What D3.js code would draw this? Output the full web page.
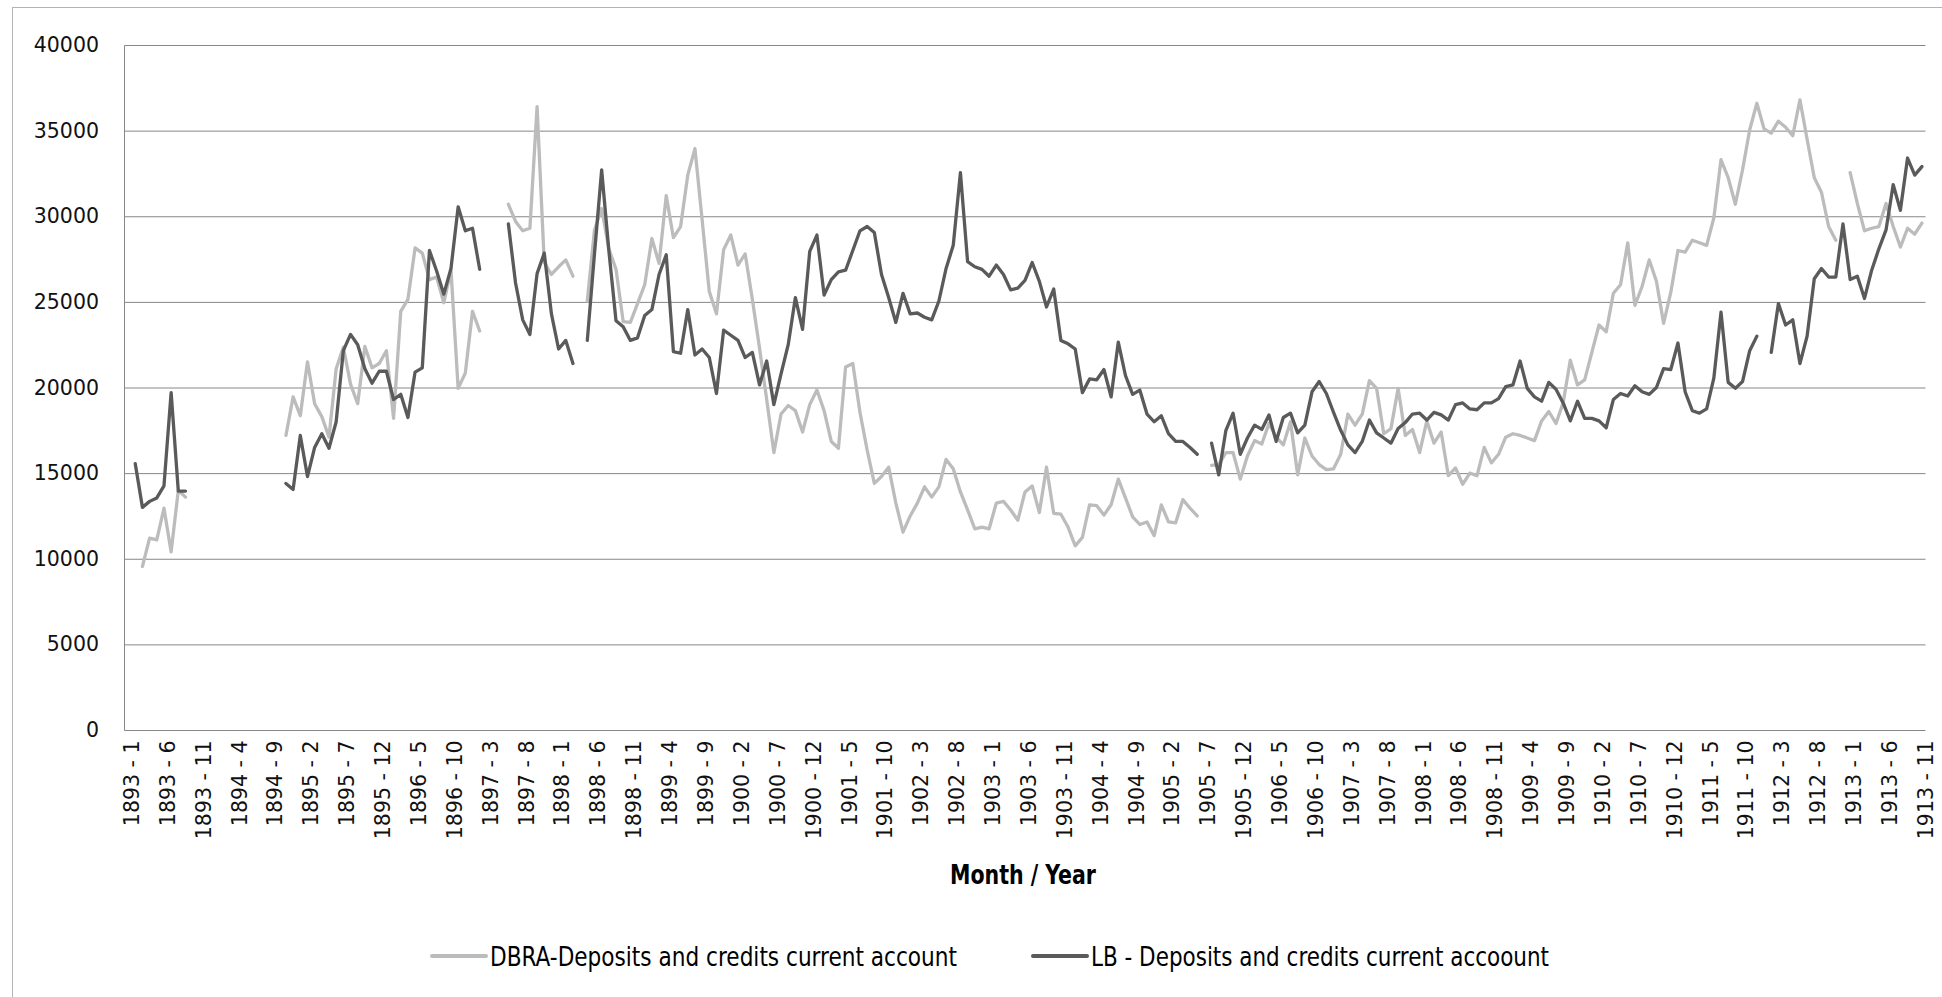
<!DOCTYPE html>
<html>
<head>
<meta charset="utf-8">
<title>Deposits and credits current account, 1893–1913</title>
<script src="https://cdn.jsdelivr.net/npm/d3@7/dist/d3.min.js"></script>
<style>
  html, body { margin: 0; padding: 0; background: #ffffff; }
  svg { display: block; }
</style>
</head>
<body>
<svg id="chart" width="1942" height="997"></svg>
<script>
// Month categories, 1893 - 1 through 1913 - 11
const firstYear = 1893, lastYear = 1913, lastMonth = 11;
const categories = [];
for (let y = firstYear; y <= lastYear; y++) {
  for (let m = 1; m <= 12; m++) {
    if (y === lastYear && m > lastMonth) break;
    categories.push(`${y} - ${m}`);
  }
}
// every fifth month carries a label
const tickCategories = categories.filter((d, i) => i % 5 === 0);
const yTicks = [0, 5000, 10000, 15000, 20000, 25000, 30000, 35000, 40000];

const xTitle = "Month / Year";
const dbraName = "DBRA-Deposits and credits current account";
const lbName = "LB - Deposits and credits current accoount";

// DBRA, one row per year (Jan..Dec); null = no figure
const dbra = [
  null, null, 9550, 11200, 11100, 12950, 10400, 14000, 13600, null, null, null,
  null, null, null, null, null, null, null, null, null, null, 17200, 19450,
  18350, 21500, 19050, 18300, 17100, 21100, 22350, 20200, 19050, 22400, 21150, 21400,
  22150, 18200, 24450, 25150, 28150, 27850, 26300, 26450, 24950, 26850, 19950, 20850,
  24450, 23300, null, null, null, 30700, 29700, 29150, 29300, 36400, 27300, 26600,
  27050, 27450, 26500, null, 25050, 29200, 30450, 28100, 26900, 23850, 23800, 24900,
  26000, 28700, 27250, 31200, 28750, 29400, 32400, 33950, 29800, 25600, 24300, 28050,
  28900, 27150, 27800, 25150, 22300, 19300, 16200, 18450, 18950, 18650, 17400, 19000,
  19850, 18650, 16850, 16450, 21200, 21400, 18550, 16350, 14400, 14800, 15350, 13250,
  11550, 12500, 13250, 14200, 13600, 14200, 15800, 15250, 13900, 12850, 11750, 11850,
  11750, 13250, 13350, 12850, 12250, 13900, 14250, 12700, 15350, 12650, 12600, 11850,
  10750, 11250, 13150, 13100, 12550, 13150, 14650, 13550, 12450, 12000, 12150, 11350,
  13150, 12150, 12100, 13450, 12950, 12500, null, 15450, 15500, 16200, 16200, 14650,
  16000, 16900, 16700, 17900, 17100, 16650, 18000, 14900, 17050, 16000, 15500, 15200,
  15250, 16100, 18450, 17800, 18450, 20400, 19950, 17300, 17600, 19950, 17200, 17550,
  16200, 18050, 16750, 17400, 14850, 15300, 14350, 15000, 14850, 16500, 15600, 16100,
  17100, 17300, 17200, 17050, 16900, 18050, 18600, 17900, 19100, 21600, 20150, 20450,
  22050, 23650, 23250, 25500, 26000, 28450, 24800, 25900, 27450, 26200, 23750, 25550,
  28000, 27900, 28600, 28450, 28300, 29900, 33300, 32250, 30700, 32700, 35050, 36600,
  35100, 34850, 35550, 35200, 34700, 36800, 34500, 32250, 31400, 29400, 28600, null,
  32550, 30750, 29150, 29300, 29400, 30750, 29400, 28200, 29300, 28950, 29600
];

// LB, one row per year (Jan..Dec); null = no figure
const lb = [
  null, 15550, 13000, 13350, 13550, 14250, 19700, 13950, 13950, null, null, null,
  null, null, null, null, null, null, null, null, null, null, 14400, 14050,
  17200, 14800, 16500, 17300, 16450, 18000, 22150, 23100, 22500, 21100, 20250, 20950,
  20950, 19300, 19600, 18250, 20900, 21150, 28000, 26800, 25450, 26950, 30550, 29150,
  29300, 26900, null, null, null, 29550, 26100, 23950, 23100, 26650, 27850, 24300,
  22250, 22750, 21400, null, 22750, 27800, 32700, 28000, 23900, 23550, 22750, 22900,
  24200, 24550, 26600, 27750, 22100, 22000, 24550, 21900, 22250, 21750, 19650, 23350,
  23050, 22750, 21750, 22050, 20150, 21550, 19000, 20800, 22500, 25250, 23400, 27950,
  28900, 25400, 26300, 26750, 26850, 28000, 29150, 29400, 29050, 26600, 25250, 23800,
  25500, 24300, 24350, 24100, 23950, 25050, 26950, 28300, 32550, 27350, 27050, 26900,
  26500, 27150, 26600, 25700, 25800, 26250, 27300, 26200, 24700, 25750, 22750, 22550,
  22250, 19700, 20500, 20450, 21050, 19450, 22650, 20700, 19600, 19850, 18450, 18000,
  18350, 17300, 16850, 16850, 16500, 16100, null, 16750, 14900, 17500, 18500, 16100,
  17050, 17800, 17550, 18400, 16850, 18250, 18500, 17350, 17800, 19750, 20350, 19650,
  18550, 17500, 16650, 16200, 16850, 18100, 17350, 17050, 16750, 17600, 17950, 18450,
  18500, 18100, 18550, 18400, 18100, 19000, 19100, 18750, 18700, 19100, 19100, 19350,
  20050, 20150, 21550, 19950, 19450, 19200, 20300, 19900, 19100, 18050, 19200, 18200,
  18200, 18050, 17650, 19300, 19650, 19500, 20100, 19750, 19600, 20000, 21100, 21050,
  22600, 19750, 18650, 18500, 18750, 20550, 24400, 20300, 19950, 20350, 22150, 23000,
  null, 22050, 24900, 23650, 23950, 21400, 23000, 26350, 26950, 26450, 26450, 29550,
  26300, 26500, 25200, 26850, 28100, 29200, 31850, 30350, 33400, 32400, 32900
];

const seriesList = [
  { name: dbraName, values: dbra, color: "#bcbcbc" },
  { name: lbName, values: lb, color: "#5a5a5a" }
];

// ---- layout ----
const W = 1942, H = 997;
const plot = { left: 124.5, right: 1925.5, top: 45, bottom: 730 };
const gridColor = "#878787";
const tickFont = "'DejaVu Sans', Verdana, sans-serif";
const textFont = "'Liberation Sans Narrow', 'Arial Narrow', 'DejaVu Sans Condensed', sans-serif";

const svg = d3.select("#chart");

// chart frame
svg.append("rect")
  .attr("x", 12.5).attr("y", 7.5)
  .attr("width", W + 20).attr("height", H + 20)
  .attr("fill", "#ffffff")
  .attr("stroke", "#b3b3b3").attr("stroke-width", 1);

const x = d3.scalePoint()
  .domain(categories)
  .range([plot.left, plot.right])
  .padding(0.5);

const y = d3.scaleLinear()
  .domain([0, 40000])
  .range([plot.bottom, plot.top]);

// horizontal gridlines
const grid = svg.append("g")
  .attr("transform", `translate(${plot.left},0)`)
  .call(d3.axisLeft(y).tickValues(yTicks).tickSize(-(plot.right - plot.left)).tickFormat(""));
grid.select(".domain").remove();
grid.selectAll(".tick line").attr("stroke", gridColor).attr("stroke-width", 1);

// vertical axis line
svg.append("line")
  .attr("x1", plot.left).attr("x2", plot.left)
  .attr("y1", y(40000) + 0.5).attr("y2", y(0) + 0.5)
  .attr("stroke", gridColor).attr("stroke-width", 1);

// value labels
const yAxis = svg.append("g")
  .attr("transform", `translate(${plot.left},0)`)
  .call(d3.axisLeft(y).tickValues(yTicks).tickSize(0).tickPadding(25.5).tickFormat(d3.format("d")));
yAxis.select(".domain").remove();
yAxis.selectAll("text")
  .attr("font-family", tickFont)
  .attr("font-size", "20.5px")
  .attr("fill", "#111111");

// month labels, rotated
const xAxis = svg.append("g")
  .attr("transform", `translate(0,${plot.bottom})`)
  .call(d3.axisBottom(x).tickValues(tickCategories).tickSize(0));
xAxis.select(".domain").remove();
xAxis.selectAll("text")
  .attr("transform", "rotate(-90)")
  .attr("x", -10.5)
  .attr("y", 3)
  .attr("dy", "0.36em")
  .attr("text-anchor", "end")
  .attr("font-family", tickFont)
  .attr("font-size", "20.5px")
  .attr("fill", "#111111");

// axis title
svg.append("text")
  .attr("x", (plot.left + plot.right) / 2 - 2)
  .attr("y", 874)
  .attr("dominant-baseline", "central")
  .attr("text-anchor", "middle")
  .attr("font-family", textFont)
  .attr("font-weight", "bold")
  .attr("font-size", "27px")
  .attr("textLength", 146)
  .attr("lengthAdjust", "spacingAndGlyphs")
  .attr("fill", "#000000")
  .text(xTitle);

// series lines
const line = d3.line()
  .defined(d => d.v != null)
  .x(d => x(d.c))
  .y(d => y(d.v));

svg.append("g").selectAll("path")
  .data(seriesList)
  .join("path")
  .attr("fill", "none")
  .attr("stroke", s => s.color)
  .attr("stroke-width", 3.3)
  .attr("stroke-linejoin", "round")
  .attr("stroke-linecap", "round")
  .attr("d", s => line(categories.map((c, i) => ({ c, v: s.values[i] }))));

// legend
const legendItems = [
  { s: seriesList[0], x1: 432, x2: 486, tx: 490, tw: 467 },
  { s: seriesList[1], x1: 1033, x2: 1087, tx: 1091, tw: 458 }
];
const legendY = 956;
const lg = svg.append("g");
lg.selectAll("line")
  .data(legendItems)
  .join("line")
  .attr("x1", d => d.x1).attr("x2", d => d.x2)
  .attr("y1", legendY).attr("y2", legendY)
  .attr("stroke", d => d.s.color)
  .attr("stroke-width", 4)
  .attr("stroke-linecap", "round");
lg.selectAll("text")
  .data(legendItems)
  .join("text")
  .attr("x", d => d.tx)
  .attr("y", legendY)
  .attr("dominant-baseline", "central")
  .attr("font-family", textFont)
  .attr("font-size", "27px")
  .attr("textLength", d => d.tw)
  .attr("lengthAdjust", "spacingAndGlyphs")
  .attr("fill", "#000000")
  .text(d => d.s.name);
</script>
</body>
</html>
